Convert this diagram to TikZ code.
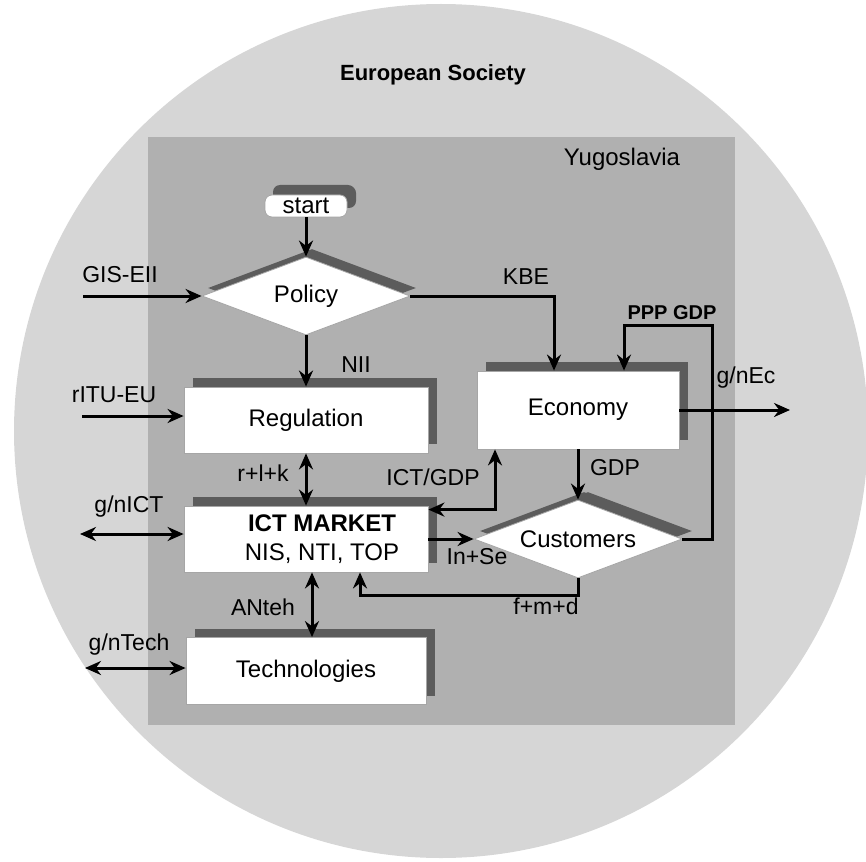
\documentclass[tikz,border=0pt]{standalone}
\usepackage{fontspec}
\setmainfont{Liberation Sans}
\usetikzlibrary{arrows.meta,calc,shapes.geometric,shadows}
\definecolor{society}{gray}{0.84}
\definecolor{country}{gray}{0.69}
\definecolor{shade}{gray}{0.36}
\tikzset{
  block/.style={rectangle, draw=gray!70, fill=white, inner sep=0pt,
    font=\fontsize{12}{14.5}\selectfont,
    drop shadow={shadow xshift=4.5pt, shadow yshift=4.5pt, fill=shade, opacity=1}},
  decision/.style={diamond, draw=gray!70, fill=white, inner sep=0pt, aspect=2.67,
    minimum width=104pt, minimum height=39pt, font=\fontsize{12}{14.5}\selectfont,
    drop shadow={shadow xshift=3pt, shadow yshift=4pt, fill=shade, opacity=1}},
  lbl/.style={font=\fontsize{11.5}{13}\selectfont},
  flow/.style={line width=1.5pt, -{Stealth[length=8pt,width=7pt]}},
  dflow/.style={line width=1.5pt, {Stealth[length=8pt,width=7pt]}-{Stealth[length=8pt,width=7pt]}}
}
\begin{document}
\begin{tikzpicture}[x=0.5pt,y=-0.5pt]
  \useasboundingbox (0,0) rectangle (866,861);
  % background: society and country
  \fill[society] (441,431) circle (213.5pt);
  \fill[country] (148,137) rectangle (735,725);
  \node[font=\bfseries\fontsize{11}{13}\selectfont] (society) at (433,75) {European Society};
  \node[font=\fontsize{12}{14}\selectfont] (country) at (622,159) {Yugoslavia};

  % blocks
  \node[block, rounded corners=3.5pt, minimum width=41pt, minimum height=11pt,
    drop shadow={shadow xshift=4pt, shadow yshift=5pt, fill=shade, opacity=1}] (start) at (306,206) {start};
  \node[decision] (policy) at (306,296) {Policy};
  \node[block, minimum width=122pt, minimum height=33pt] (regulation) at (306,420) {Regulation};
  \node[block, minimum width=101pt, minimum height=39pt] (economy) at (578,410) {Economy};
  \node[block, minimum width=122pt, minimum height=33pt,
    label={[xshift=8pt, align=center, font=\fontsize{12}{14.5}\selectfont]center:{\textbf{ICT MARKET}\\NIS, NTI, TOP}}] (ict) at (306,539) {};
  \node[decision, drop shadow={shadow xshift=5pt, shadow yshift=4pt, fill=shade, opacity=1}] (customers) at (578,539) {Customers};
  \node[block, minimum width=120pt, minimum height=33.5pt] (technologies) at (306,671) {Technologies};

  % free ends
  \coordinate (gis) at (83,296);
  \coordinate (ritu) at (82,416);
  \coordinate (gnict) at (80,534);
  \coordinate (gntech) at (85,668);
  \coordinate (gnec) at (790,410);

  % connectors
  \draw[flow] (start) -- (policy);
  \draw[flow] (gis) -- (policy);
  \draw[flow] (policy) -| ($(economy.north)+(-24,0)$);
  \draw[flow] (customers) -| ($(economy.north)+(134,-45)$) -| ($(economy.north)+(46,0)$);
  \draw[flow] (economy) -- (gnec);
  \draw[flow] (policy) -- (regulation);
  \draw[flow] (ritu) -- (ritu -| regulation.west);
  \draw[dflow] (regulation) -- (ict);
  \draw[dflow] ($(ict.north east)+(0,4)$) -| ($(economy.south)+(-83,0)$);
  \draw[flow] (ict) -- (customers);
  \draw[flow] (economy) -- (customers);
  \draw[flow] (customers) |- ($(ict.south)+(54,23)$) -- ($(ict.south)+(54,0)$);
  \draw[dflow] ($(ict.south)+(6,0)$) -- ($(technologies.north)+(6,0)$);
  \draw[dflow] (gnict) -- (gnict -| ict.west);
  \draw[dflow] (gntech) -- (gntech -| technologies.west);

  % labels
  \node[lbl] (gislbl) at (120,275) {GIS-EII};
  \node[lbl] (ritulbl) at (114,395) {rITU-EU};
  \node[lbl] (kbelbl) at (526,277) {KBE};
  \node[font=\bfseries\fontsize{10}{12}\selectfont] (ppplbl) at (672,313) {PPP GDP};
  \node[lbl] (niilbl) at (356,365) {NII};
  \node[lbl] (gneclbl) at (746,378) {g/nEc};
  \node[lbl] (rlklbl) at (263,473) {r+l+k};
  \node[lbl] (ictgdplbl) at (433,477) {ICT/GDP};
  \node[lbl] (gdplbl) at (615,468) {GDP};
  \node[lbl] (gnictlbl) at (129,507) {g/nICT};
  \node[lbl] (inselbl) at (477,557) {In+Se};
  \node[lbl] (fmdlbl) at (546,606) {f+m+d};
  \node[lbl] (antehlbl) at (263,607) {ANteh};
  \node[lbl] (gntechlbl) at (129,645) {g/nTech};
\end{tikzpicture}
\end{document}
